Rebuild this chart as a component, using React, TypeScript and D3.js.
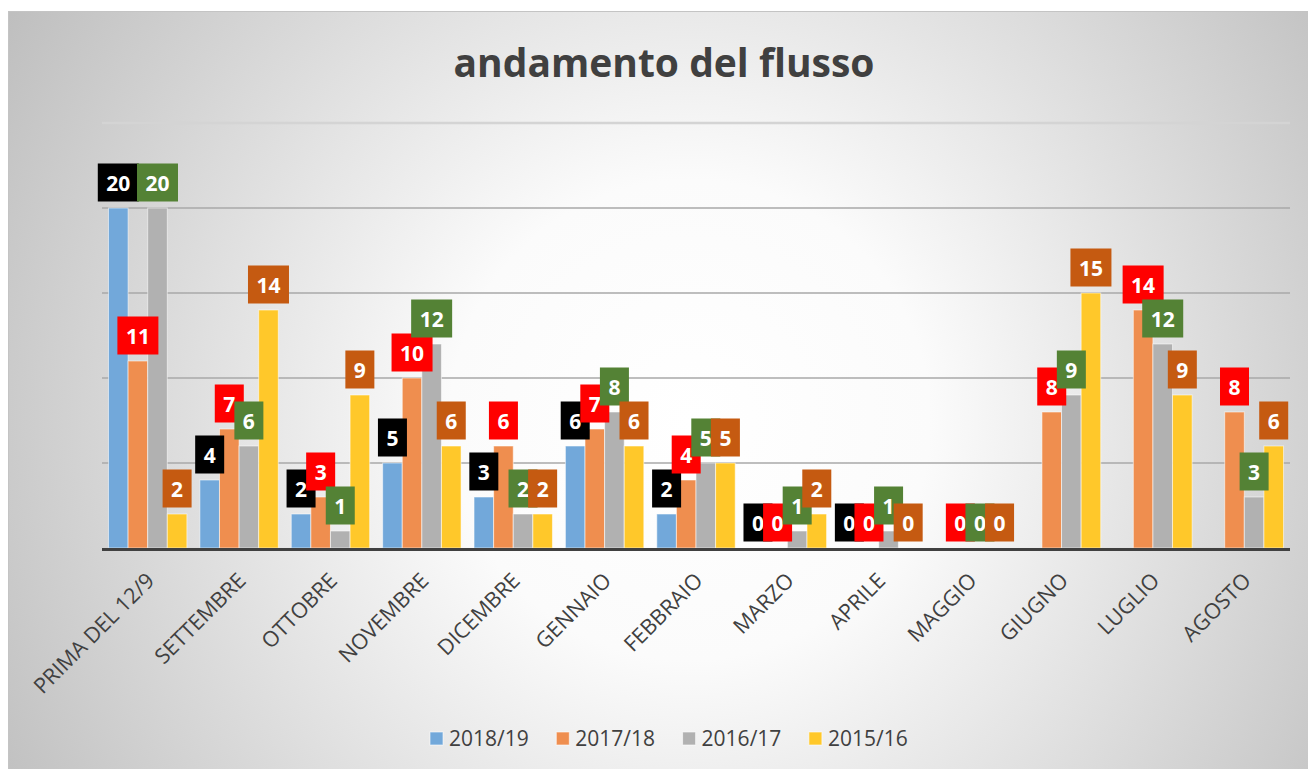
import React from "react";
import * as d3 from "d3";

const categories = [
  "PRIMA DEL 12/9", "SETTEMBRE", "OTTOBRE", "NOVEMBRE", "DICEMBRE", "GENNAIO",
  "FEBBRAIO", "MARZO", "APRILE", "MAGGIO", "GIUGNO", "LUGLIO", "AGOSTO",
];
const seriesNames = ["2018/19", "2017/18", "2016/17", "2015/16"];
const s2018_19: (number | null)[] = [20, 4, 2, 5, 3, 6, 2, 0, 0, null, null, null, null];
const s2017_18: (number | null)[] = [11, 7, 3, 10, 6, 7, 4, 0, 0, 0, 8, 14, 8];
const s2016_17: (number | null)[] = [20, 6, 1, 12, 2, 8, 5, 1, 1, 0, 9, 12, 3];
const s2015_16: (number | null)[] = [2, 14, 9, 6, 2, 6, 5, 2, 0, 0, 15, 9, 6];
const seriesValues = [s2018_19, s2017_18, s2016_17, s2015_16];
const yTicks = [0, 5, 10, 15, 20, 25];

const barColors = ["#72A8DA", "#EF8E4F", "#B1B1B1", "#FFC82A"];
const labelColors = ["#000000", "#FF0000", "#548235", "#C55A11"];

const W = 1308;
const H = 769;
const plotLeft = 102;
const plotRight = 1290;
const plotTop = 123;
const plotBottom = 548;

export default function App() {
  const x = d3.scaleBand<string>().domain(categories).range([plotLeft, plotRight]).paddingInner(0.142).paddingOuter(0.071);
  const xs = d3.scaleBand<string>().domain(seriesNames).range([0, x.bandwidth()]).padding(0);
  const y = d3.scaleLinear().domain([0, 25]).range([plotBottom, plotTop]);
  const font = "'Open Sans', 'DejaVu Sans', sans-serif";

  const legendStart = 430;
  const legendStep = 126.3;

  return (
    <svg width={W} height={H} style={{ position: "absolute", left: 0, top: 0 }} fontFamily={font}>
      <defs>
        <radialGradient id="bg" gradientUnits="userSpaceOnUse" cx={690} cy={420} r={800}>
          <stop offset="0" stopColor="#ffffff" />
          <stop offset="0.3" stopColor="#fbfbfb" />
          <stop offset="1" stopColor="#bebebe" />
        </radialGradient>
      </defs>
      <rect x={0} y={0} width={W} height={H} fill="#ffffff" />
      <rect x={8.5} y={11.5} width={W} height={H} fill="url(#bg)" stroke="#c4c4c4" strokeWidth={1} />

      <text x={664} y={77} textAnchor="middle" fontSize={39} fontWeight={700} fill="#404040">
        andamento del flusso
      </text>

      {yTicks.filter((t) => t > 0).map((t) => (
        <line key={t} x1={plotLeft} x2={plotRight} y1={y(t)} y2={y(t)} stroke={t === 25 ? "#d4d4d4" : "#a9a9a9"} strokeWidth={t === 25 ? 2.5 : 1.5} />
      ))}

      {seriesValues.map((vals, si) =>
        vals.map((v, ci) =>
          v === null ? null : (
            <rect
              key={`b${si}-${ci}`}
              x={(x(categories[ci]) as number) + (xs(seriesNames[si]) as number)}
              y={y(v)}
              width={xs.bandwidth()}
              height={plotBottom - y(v)}
              fill={barColors[si]}
              stroke="rgba(255,255,255,0.55)"
              strokeWidth={1}
            />
          )
        )
      )}

      <line x1={plotLeft} x2={plotRight} y1={plotBottom + 1.5} y2={plotBottom + 1.5} stroke="#404040" strokeWidth={3} />

      {seriesValues.map((vals, si) =>
        vals.map((v, ci) => {
          if (v === null) return null;
          const cx = (x(categories[ci]) as number) + (xs(seriesNames[si]) as number) + xs.bandwidth() / 2;
          const txt = String(v);
          const bw = txt.length * 12 + 17;
          const bh = 38;
          const by = y(v) - 6.5 - bh;
          return (
            <g key={`l${si}-${ci}`}>
              <rect x={cx - bw / 2} y={by} width={bw} height={bh} fill={labelColors[si]} />
              <text x={cx} y={by + 27} textAnchor="middle" fontSize={21} fontWeight={700} fill="#ffffff">
                {txt}
              </text>
            </g>
          );
        })
      )}

      {categories.map((c) => {
        const cx = (x(c) as number) + x.bandwidth() / 2;
        return (
          <text key={c} transform={`translate(${cx + 8},${582}) rotate(-45)`} textAnchor="end" fontSize={21.5} fill="#404040">
            {c}
          </text>
        );
      })}

      {seriesNames.map((s, i) => (
        <g key={s} transform={`translate(${legendStart + i * legendStep},0)`}>
          <rect x={0} y={732} width={13} height={13} fill={barColors[i]} stroke="rgba(255,255,255,0.6)" strokeWidth={1} />
          <text x={19} y={746} fontSize={21} fill="#404040">{s}</text>
        </g>
      ))}
    </svg>
  );
}
